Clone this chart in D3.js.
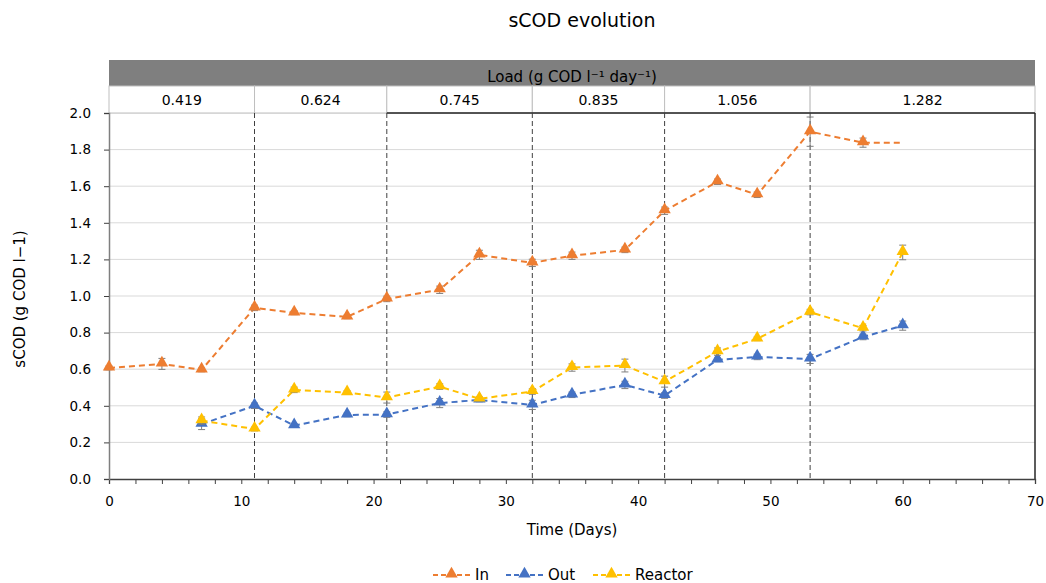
<!DOCTYPE html>
<html>
<head>
<meta charset="utf-8">
<script src="https://cdn.jsdelivr.net/npm/d3@7"></script>
<style>
  html, body { margin: 0; padding: 0; background: #fff; }
  svg { display: block; font-family: "DejaVu Sans", Verdana, sans-serif; }
</style>
</head>
<body>
<svg id="chart" width="1046" height="583"></svg>
<script>
// Sampling days and measured sCOD (g COD l-1) with standard deviations
const daysIn = [0, 4, 7, 11, 14, 18, 21, 25, 28, 32, 35, 39, 42, 46, 49, 53, 57, 60];
const valIn  = [0.607, 0.629, 0.596, 0.935, 0.908, 0.886, 0.984, 1.034, 1.225, 1.181, 1.220, 1.252, 1.466, 1.624, 1.553, 1.898, 1.838, 1.838];
const errIn  = [0.01, 0.03, 0.01, 0.015, 0.01, 0.01, 0.015, 0.02, 0.025, 0.02, 0.02, 0.015, 0.02, 0.015, 0.015, 0.08, 0.025, 0];
const markIn = [1, 1, 1, 1, 1, 1, 1, 1, 1, 1, 1, 1, 1, 1, 1, 1, 1, 0];

const daysOut = [7, 11, 14, 18, 21, 25, 28, 32, 35, 39, 42, 46, 49, 53, 57, 60];
const valOut  = [0.30, 0.40, 0.292, 0.350, 0.352, 0.415, 0.432, 0.405, 0.460, 0.514, 0.456, 0.651, 0.667, 0.656, 0.776, 0.838];
const errOut  = [0.03, 0.015, 0.01, 0.01, 0.015, 0.025, 0.01, 0.025, 0.015, 0.02, 0.015, 0.01, 0.015, 0.025, 0.015, 0.025];

const daysReactor = [7, 11, 14, 18, 21, 25, 28, 32, 35, 39, 42, 46, 49, 53, 57, 60];
const valReactor  = [0.319, 0.273, 0.487, 0.472, 0.445, 0.505, 0.438, 0.478, 0.609, 0.620, 0.532, 0.696, 0.766, 0.912, 0.824, 1.238];
const errReactor  = [0.02, 0.01, 0.015, 0.01, 0.03, 0.015, 0.01, 0.015, 0.02, 0.035, 0.03, 0.02, 0.01, 0.015, 0.015, 0.04];

// Organic load periods (day boundaries) and their loads
const loadBounds = [0, 11, 21, 32, 42, 53, 70];
const loadLabels = ["0.419", "0.624", "0.745", "0.835", "1.056", "1.282"];

const xTicks = [0, 10, 20, 30, 40, 50, 60, 70];
const yTicks = [0, 0.2, 0.4, 0.6, 0.8, 1.0, 1.2, 1.4, 1.6, 1.8, 2.0];

const seriesNames  = ["In", "Out", "Reactor"];
const seriesColors = ["#ED7D31", "#4472C4", "#FFC000"];

const svg = d3.select("#chart");
const margin = { left: 109, right: 1035, top: 113, bottom: 479 };

const x = d3.scaleLinear().domain([0, 70]).range([margin.left, margin.right]);
const y = d3.scaleLinear().domain([0, 2]).range([margin.bottom, margin.top]);

// Title
svg.append("text").attr("x", 582).attr("y", 27).attr("text-anchor", "middle")
  .attr("font-size", 19).attr("fill", "#000").text("sCOD evolution");

// Horizontal gridlines
svg.append("g").selectAll("line").data(yTicks.filter(d => d > 0)).join("line")
  .attr("x1", margin.left).attr("x2", margin.right)
  .attr("y1", d => y(d)).attr("y2", d => y(d))
  .attr("stroke", "#d9d9d9").attr("stroke-width", 1);

// Load header: grey band and one cell per period
const header = svg.append("g");
header.append("rect").attr("x", margin.left).attr("y", 60)
  .attr("width", margin.right - margin.left).attr("height", 26)
  .attr("fill", "#7f7f7f");
header.append("text").attr("x", (margin.left + margin.right) / 2).attr("y", 82)
  .attr("text-anchor", "middle").attr("font-size", 15).attr("fill", "#000")
  .text("Load (g COD l\u207B\u00B9 day\u207B\u00B9)");
const cells = loadLabels.map((t, i) => ({ t, a: loadBounds[i], b: loadBounds[i + 1] }));
header.selectAll("rect.cell").data(cells).join("rect").attr("class", "cell")
  .attr("x", d => x(d.a)).attr("y", 86)
  .attr("width", d => x(d.b) - x(d.a)).attr("height", 27)
  .attr("fill", "#fff").attr("stroke", "#bfbfbf").attr("stroke-width", 1);
header.selectAll("text.cell").data(cells).join("text").attr("class", "cell")
  .attr("x", d => (x(d.a) + x(d.b)) / 2).attr("y", 105)
  .attr("text-anchor", "middle").attr("font-size", 14).attr("fill", "#000")
  .text(d => d.t);

// Plot frame: dark top edge from the third period onward and right edge
svg.append("line").attr("x1", x(loadBounds[2])).attr("x2", margin.right)
  .attr("y1", margin.top).attr("y2", margin.top)
  .attr("stroke", "#262626").attr("stroke-width", 1.5);
svg.append("line").attr("x1", margin.right).attr("x2", margin.right)
  .attr("y1", margin.top).attr("y2", margin.bottom)
  .attr("stroke", "#262626").attr("stroke-width", 1.5);

// Period boundaries
svg.append("g").selectAll("line").data(loadBounds.slice(1, -1)).join("line")
  .attr("x1", d => x(d)).attr("x2", d => x(d))
  .attr("y1", margin.top).attr("y2", margin.bottom)
  .attr("stroke", "#404040").attr("stroke-width", 1).attr("stroke-dasharray", "5,3");

// Axes
const xAxis = svg.append("g").attr("transform", `translate(0,${margin.bottom})`)
  .call(d3.axisBottom(x).tickValues(d3.range(0, 71, 2)).tickSize(5).tickPadding(12)
    .tickFormat(d => xTicks.includes(d) ? d : ""));
xAxis.select(".domain").attr("stroke", "#404040").attr("stroke-width", 1.3);
xAxis.selectAll(".tick line").attr("stroke", "#404040");
xAxis.selectAll("text").attr("font-size", 13.5).attr("fill", "#000")
  .attr("font-family", "DejaVu Sans, Verdana, sans-serif");

const yAxis = svg.append("g").attr("transform", `translate(${margin.left},0)`)
  .call(d3.axisLeft(y).tickValues(yTicks).tickSize(5).tickPadding(13).tickFormat(d3.format(".1f")));
yAxis.select(".domain").attr("stroke", "#7f7f7f").attr("stroke-width", 1.5);
yAxis.selectAll(".tick line").attr("stroke", "#404040");
yAxis.selectAll("text").attr("font-size", 13.5).attr("fill", "#000")
  .attr("font-family", "DejaVu Sans, Verdana, sans-serif");

// Axis titles
svg.append("text").attr("x", (margin.left + margin.right) / 2).attr("y", 535)
  .attr("text-anchor", "middle").attr("font-size", 15).attr("fill", "#000").text("Time (Days)");
svg.append("text").attr("transform", `translate(25,${(margin.top + margin.bottom) / 2 + 3}) rotate(-90)`)
  .attr("text-anchor", "middle").attr("font-size", 15).attr("fill", "#000").text("sCOD (g COD l\u22121)");

// Series
const series = [
  { days: daysIn, vals: valIn, errs: errIn, marks: markIn },
  { days: daysOut, vals: valOut, errs: errOut, marks: daysOut.map(() => 1) },
  { days: daysReactor, vals: valReactor, errs: errReactor, marks: daysReactor.map(() => 1) }
];

const tri = d3.symbol().type(d3.symbolTriangle).size(66);
const line = d3.line().x(d => x(d.d)).y(d => y(d.v));

series.forEach((s, i) => {
  const pts = s.days.map((d, k) => ({ d, v: s.vals[k], e: s.errs[k], m: s.marks[k] }));
  const g = svg.append("g");
  g.append("path").datum(pts).attr("d", line).attr("fill", "none")
    .attr("stroke", seriesColors[i]).attr("stroke-width", 2).attr("stroke-dasharray", "6,4");
  // error bars
  const eb = g.selectAll("g.err").data(pts.filter(p => p.e > 0)).join("g");
  eb.append("line").attr("x1", p => x(p.d)).attr("x2", p => x(p.d))
    .attr("y1", p => y(p.v - p.e)).attr("y2", p => y(p.v + p.e))
    .attr("stroke", "#7f7f7f").attr("stroke-width", 1);
  [-1, 1].forEach(sg => {
    eb.append("line").attr("x1", p => x(p.d) - 3.5).attr("x2", p => x(p.d) + 3.5)
      .attr("y1", p => y(p.v + sg * p.e)).attr("y2", p => y(p.v + sg * p.e))
      .attr("stroke", "#7f7f7f").attr("stroke-width", 1);
  });
  g.selectAll("path.mk").data(pts.filter(p => p.m)).join("path").attr("class", "mk")
    .attr("d", tri).attr("transform", p => `translate(${x(p.d)},${y(p.v) - 1})`)
    .attr("fill", seriesColors[i]);
});

// Legend
const legendX = [433, 506, 593];
const legend = svg.append("g");
seriesNames.forEach((n, i) => {
  const lx = legendX[i], ly = 575;
  legend.append("line").attr("x1", lx).attr("x2", lx + 37).attr("y1", ly).attr("y2", ly)
    .attr("stroke", seriesColors[i]).attr("stroke-width", 2).attr("stroke-dasharray", "5,3");
  legend.append("path").attr("d", tri).attr("transform", `translate(${lx + 18.5},${ly - 1})`)
    .attr("fill", seriesColors[i]);
  legend.append("text").attr("x", lx + 42).attr("y", ly + 5).attr("font-size", 15)
    .attr("fill", "#000").text(n);
});
</script>
</body>
</html>
